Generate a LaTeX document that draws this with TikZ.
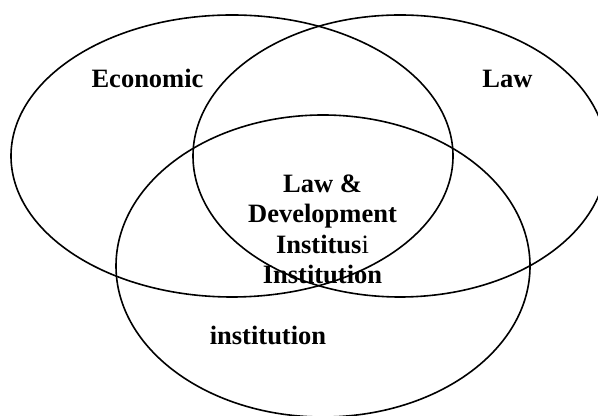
\documentclass[tikz,border=0pt]{standalone}
\usepackage{fontspec}
\setmainfont{Liberation Serif}
\tikzset{lbl/.style={font=\fontsize{13.25}{15.25}\selectfont\bfseries,inner sep=0pt}}
\begin{document}
\begin{tikzpicture}[x=0.5pt,y=0.5pt]
     \useasboundingbox (0,0) rectangle (598,416);
     \clip (0,0) rectangle (598,416);
     \draw[line width=0.8pt] (232,260) ellipse (221 and 141);
     \draw[line width=0.8pt] (400,260) ellipse (207 and 141);
     \draw[line width=0.8pt] (323,150) ellipse (207 and 151);
     \node[lbl,anchor=base] (econ) at (147.5,328) {Economic};
     \node[lbl,anchor=base] (law)  at (507.5,328) {Law};
     \node[lbl,anchor=north,align=center] (core) at (322.5,242)
          {Law \&\\Development\\Institus{\mdseries i}\\Institution};
     \node[lbl,anchor=base] (inst) at (268,71) {institution};
    \end{tikzpicture}
\end{document}
